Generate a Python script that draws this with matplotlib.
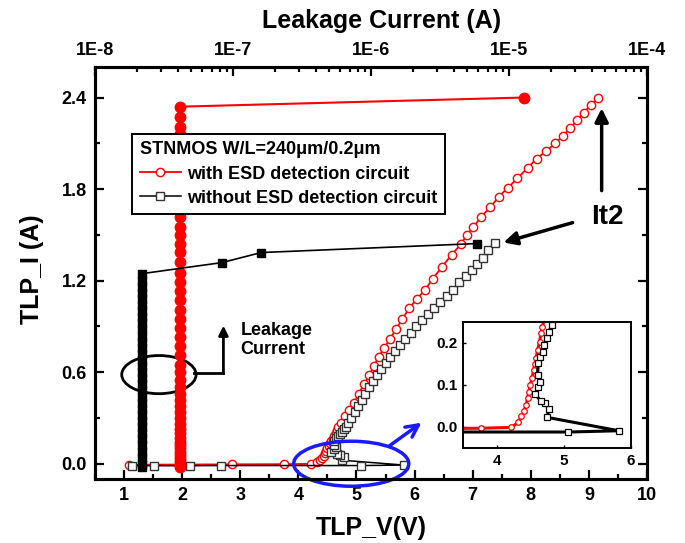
import matplotlib
matplotlib.use('Agg')
import matplotlib.pyplot as plt
from matplotlib.patches import Ellipse
from matplotlib.ticker import MultipleLocator, FixedLocator, FixedFormatter, LogLocator, NullFormatter

plt.rcParams['font.family'] = ['Liberation Sans', 'DejaVu Sans']
plt.rcParams['font.weight'] = 'bold'
plt.rcParams['axes.labelweight'] = 'bold'

# ---------------- data ----------------
# TLP I-V, with ESD detection circuit (red open circles)
with_v = [1.09, 2.86, 3.76, 4.22, 4.32, 4.37, 4.41, 4.44, 4.46, 4.48, 4.50, 4.53, 4.55, 4.57,
          4.59, 4.61, 4.64, 4.66, 4.68, 4.74, 4.81, 4.88, 4.96, 5.04, 5.13, 5.22, 5.30, 5.38,
          5.48, 5.58, 5.68, 5.79, 5.91, 6.04, 6.18, 6.31, 6.47, 6.64, 6.80, 6.90, 7.01, 7.15,
          7.30, 7.45, 7.61, 7.77, 7.95, 8.10, 8.27, 8.42, 8.56, 8.68, 8.80, 8.91, 9.03, 9.16]
with_i = [-0.007, -0.004, -0.003, -0.001, 0.011, 0.025, 0.038, 0.052, 0.068, 0.083, 0.100, 0.116,
          0.136, 0.149, 0.165, 0.183, 0.203, 0.223, 0.239, 0.27, 0.31, 0.35, 0.40, 0.46, 0.52,
          0.58, 0.64, 0.70, 0.76, 0.82, 0.88, 0.95, 1.02, 1.08, 1.14, 1.21, 1.29, 1.37, 1.44,
          1.50, 1.55, 1.62, 1.68, 1.75, 1.81, 1.87, 1.94, 2.00, 2.05, 2.10, 2.15, 2.20, 2.25,
          2.30, 2.35, 2.40]

# TLP I-V, without ESD detection circuit (black open squares)
without_v = [1.14, 1.51, 2.13, 2.67, 5.07, 5.82, 4.75, 4.78, 4.72, 4.66, 4.57, 4.62, 4.64, 4.61,
             4.62, 4.65, 4.69, 4.71, 4.75, 4.78, 4.82, 4.86, 4.91, 4.97, 5.03, 5.09, 5.15, 5.22,
             5.28, 5.35, 5.42, 5.50, 5.58, 5.66, 5.75, 5.84, 5.93, 6.03, 6.13, 6.23, 6.33, 6.44,
             6.55, 6.66, 6.77, 6.88, 6.98, 7.07, 7.17, 7.26, 7.38]
without_i = [-0.013, -0.013, -0.013, -0.012, -0.012, -0.009, 0.023, 0.042, 0.056, 0.062, 0.078,
             0.096, 0.108, 0.124, 0.152, 0.167, 0.179, 0.195, 0.211, 0.227, 0.243, 0.27, 0.30,
             0.34, 0.38, 0.42, 0.46, 0.50, 0.54, 0.58, 0.62, 0.66, 0.70, 0.74, 0.78, 0.82, 0.86,
             0.90, 0.94, 0.98, 1.02, 1.06, 1.10, 1.14, 1.19, 1.23, 1.27, 1.31, 1.35, 1.40, 1.445]

# Leakage current (top log axis), with ESD detection circuit (red filled circles)
with_leak_i = [-0.02, -0.01, 0.0, 0.02, 0.04, 0.06, 0.08, 0.10, 0.12, 0.14, 0.17, 0.20, 0.23,
               0.26, 0.30, 0.34, 0.38, 0.42, 0.46, 0.50, 0.55, 0.60, 0.65, 0.71, 0.77, 0.83,
               0.89, 0.95, 1.01, 1.07, 1.13, 1.19, 1.25, 1.32, 1.39, 1.44, 1.50, 1.55, 1.62,
               1.68, 1.74, 1.80, 1.86, 1.92, 1.98, 2.04, 2.10, 2.16, 2.21, 2.27, 2.34, 2.40]
with_leak_a = [4.1e-8, 4.1e-8, 4.1e-8, 4.1e-8, 4.1e-8, 4.1e-8, 4.1e-8, 4.1e-8, 4.1e-8, 4.1e-8,
               4.1e-8, 4.1e-8, 4.1e-8, 4.1e-8, 4.1e-8, 4.1e-8, 4.1e-8, 4.1e-8, 4.1e-8, 4.1e-8,
               4.1e-8, 4.1e-8, 4.1e-8, 4.1e-8, 4.1e-8, 4.1e-8, 4.1e-8, 4.1e-8, 4.1e-8, 4.1e-8,
               4.1e-8, 4.1e-8, 4.1e-8, 4.1e-8, 4.1e-8, 4.1e-8, 4.1e-8, 4.1e-8, 4.1e-8, 4.1e-8,
               4.1e-8, 4.1e-8, 4.1e-8, 4.1e-8, 4.1e-8, 4.1e-8, 4.1e-8, 4.1e-8, 4.1e-8, 4.1e-8,
               4.1e-8, 1.29e-5]

# Leakage current, without ESD detection circuit (black filled squares)
without_leak_i = [-0.02, 0.0, 0.04, 0.08, 0.12, 0.16, 0.20, 0.24, 0.28, 0.32, 0.36, 0.40, 0.44,
                  0.48, 0.52, 0.56, 0.60, 0.64, 0.68, 0.72, 0.76, 0.80, 0.84, 0.88, 0.92, 0.96,
                  1.00, 1.04, 1.08, 1.12, 1.16, 1.20, 1.246, 1.318, 1.384, 1.443]
without_leak_a = [2.2e-8, 2.2e-8, 2.2e-8, 2.2e-8, 2.2e-8, 2.2e-8, 2.2e-8, 2.2e-8, 2.2e-8, 2.2e-8,
                  2.2e-8, 2.2e-8, 2.2e-8, 2.2e-8, 2.2e-8, 2.2e-8, 2.2e-8, 2.2e-8, 2.2e-8, 2.2e-8,
                  2.2e-8, 2.2e-8, 2.2e-8, 2.2e-8, 2.2e-8, 2.2e-8, 2.2e-8, 2.2e-8, 2.2e-8, 2.2e-8,
                  2.2e-8, 2.2e-8, 2.2e-8, 8.3e-8, 1.6e-7, 5.9e-6]

y_ticks = [0.0, 0.6, 1.2, 1.8, 2.4]
y_ticklabels = ['0.0', '0.6', '1.2', '1.8', '2.4']
x_ticks = [1, 2, 3, 4, 5, 6, 7, 8, 9, 10]
top_ticks = [1e-8, 1e-7, 1e-6, 1e-5, 1e-4]
top_ticklabels = ['1E-8', '1E-7', '1E-6', '1E-5', '1E-4']
inset_xticks = [4, 5, 6]
inset_yticks = [0.0, 0.1, 0.2]
inset_yticklabels = ['0.0', '0.1', '0.2']

legend_title = 'STNMOS W/L=240\u03bcm/0.2\u03bcm'
label_with = 'with ESD detection circuit'
label_without = 'without ESD detection circuit'

RED = '#ff0000'
BLUE = '#1a1aff'

# ---------------- figure ----------------
fig = plt.figure(figsize=(6.85, 5.43), dpi=100)
ax = fig.add_axes([0.1387, 0.1179, 0.8058, 0.7587])
ax2 = ax.twiny()

SPW = 2.2
for a in (ax, ax2):
    for s in a.spines.values():
        s.set_linewidth(SPW)

# main IV curves
l_with, = ax.plot(with_v, with_i, '-', color=RED, lw=1.3, marker='o', ms=6,
                  mfc='white', mec=RED, mew=1.0, zorder=3)
l_without, = ax.plot(without_v, without_i, '-', color='black', lw=1.1, marker='s', ms=5.5,
                     mfc='white', mec='#333333', mew=1.0, zorder=3)

ax.set_xlim(0.5, 10)
ax.set_ylim(-0.1, 2.6)
ax.xaxis.set_major_locator(FixedLocator(x_ticks))
ax.xaxis.set_minor_locator(MultipleLocator(0.5))
ax.yaxis.set_major_locator(FixedLocator(y_ticks))
ax.yaxis.set_major_formatter(FixedFormatter(y_ticklabels))
ax.yaxis.set_minor_locator(MultipleLocator(0.3))
ax.tick_params(axis='both', which='both', direction='in', width=1.6)
ax.tick_params(axis='both', which='major', length=6.5, labelsize=13, pad=6)
ax.tick_params(axis='both', which='minor', length=3.5)
ax.tick_params(axis='y', which='both', left=True, right=True)
ax.tick_params(axis='x', which='both', top=False, bottom=True)

ax.set_xlabel('TLP_V(V)', fontsize=18, fontweight='bold')
ax.set_ylabel('TLP_I (A)', fontsize=18, fontweight='bold')
ax.xaxis.set_label_coords(0.50, -0.09)
ax.yaxis.set_label_coords(-0.093, 0.51)

# top log axis: leakage current
ax2.plot(with_leak_a, with_leak_i, '-', color=RED, lw=1.5, marker='o', ms=7.5,
         mfc=RED, mec=RED, zorder=3)
ax2.plot(without_leak_a, without_leak_i, '-', color='black', lw=1.2, marker='s', ms=5.5,
         mfc='black', mec='black', zorder=3)
ax2.set_xscale('log')
ax2.set_xlim(1e-8, 1e-4)
ax2.xaxis.set_major_locator(FixedLocator(top_ticks))
ax2.xaxis.set_major_formatter(FixedFormatter(top_ticklabels))
ax2.xaxis.set_minor_locator(LogLocator(base=10, subs=(2, 3, 4, 5, 6, 7, 8, 9)))
ax2.xaxis.set_minor_formatter(NullFormatter())
ax2.tick_params(axis='x', which='both', direction='in', width=1.6, top=True, bottom=False)
ax2.tick_params(axis='x', which='major', length=6.5, labelsize=13, pad=6)
ax2.tick_params(axis='x', which='minor', length=3.5)
ax2.set_xlabel('Leakage Current (A)', fontsize=18, fontweight='bold')
ax2.xaxis.set_label_coords(0.52, 1.095)

# legend
leg = ax2.legend([l_with, l_without], [label_with, label_without], title=legend_title,
                 loc='upper left', bbox_to_anchor=(0.067, 0.838), borderaxespad=0,
                 fontsize=13, title_fontproperties={'weight': 'bold', 'size': 13},
                 frameon=True, fancybox=False, framealpha=1, edgecolor='black',
                 handlelength=2.3, handletextpad=0.35, borderpad=0.42, labelspacing=0.4,
                 alignment='left')
leg.get_frame().set_linewidth(1.4)
leg.set_zorder(10)

# annotations (main axes data coordinates)
ax.add_patch(Ellipse((1.60, 0.584), 1.28, 0.25, fill=False, ec='black', lw=2.0, zorder=2))
ax.plot([2.21, 2.71], [0.597, 0.597], color='black', lw=2.0, zorder=2)
ax.annotate('', xy=(2.71, 0.905), xytext=(2.71, 0.59),
            arrowprops=dict(arrowstyle='-|>', color='black', lw=2.0, mutation_scale=14,
                            shrinkA=0, shrinkB=0))
ax.text(3.0, 0.81, 'Leakage\nCurrent', fontsize=13, fontweight='bold', ha='left', va='center',
        linespacing=1.15)

ax.add_patch(Ellipse((4.91, 0.0), 1.98, 0.295, fill=False, ec=BLUE, lw=2.5, zorder=4,
                     clip_on=False))
ax.annotate('', xy=(6.12, 0.269), xytext=(5.57, 0.118),
            arrowprops=dict(arrowstyle='->', color=BLUE, lw=2.5, mutation_scale=22,
                            shrinkA=0, shrinkB=0))

ax.annotate('', xy=(9.22, 2.33), xytext=(9.22, 1.79),
            arrowprops=dict(arrowstyle='-|>', color='black', lw=2.5, mutation_scale=20,
                            shrinkA=0, shrinkB=0))
ax.annotate('', xy=(7.53, 1.45), xytext=(8.72, 1.58),
            arrowprops=dict(arrowstyle='-|>', color='black', lw=2.5, mutation_scale=20,
                            shrinkA=0, shrinkB=0))
ax.text(9.31, 1.62, 'It2', fontsize=20, fontweight='bold', ha='center', va='center')

# inset
axi = fig.add_axes([0.676, 0.175, 0.245, 0.232])
axi.plot(with_v, with_i, '-', color=RED, lw=2.2, marker='o', ms=4, mfc='white', mec=RED,
         mew=0.9)
axi.plot(without_v, without_i, '-', color='black', lw=2.2, marker='s', ms=4.5, mfc='white',
         mec='black', mew=0.9)
axi.set_xlim(3.5, 6.0)
axi.set_ylim(-0.05, 0.25)
axi.xaxis.set_major_locator(FixedLocator(inset_xticks))
axi.yaxis.set_major_locator(FixedLocator(inset_yticks))
axi.yaxis.set_major_formatter(FixedFormatter(inset_yticklabels))
axi.tick_params(axis='both', which='both', direction='in', length=2, width=1, labelsize=11,
                pad=4)
for s in axi.spines.values():
    s.set_linewidth(1.4)

fig.savefig('out.png', dpi=100)
